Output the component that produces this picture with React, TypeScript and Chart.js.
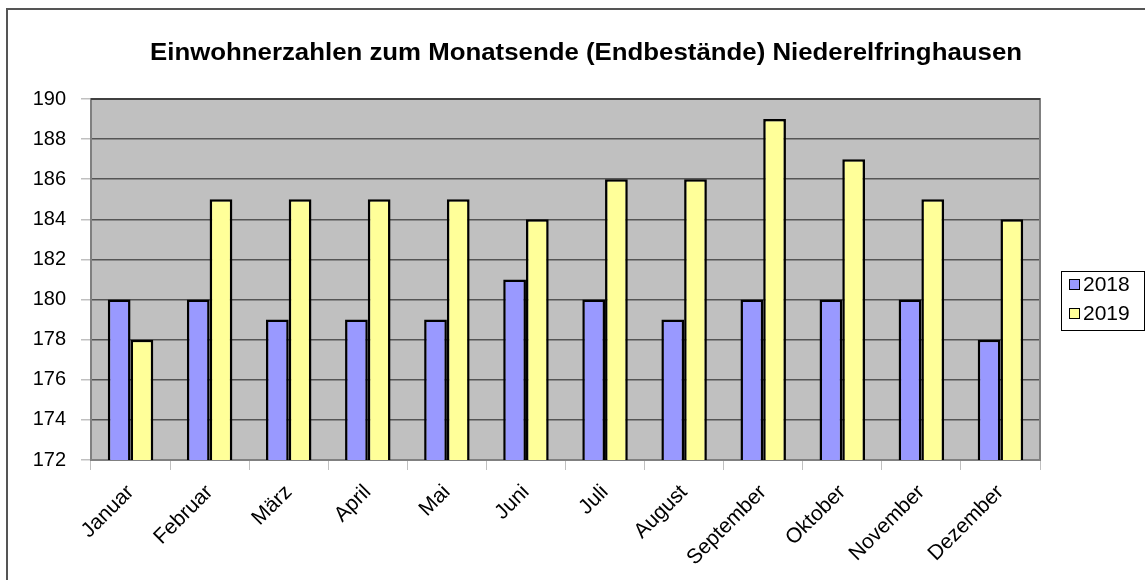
import React, { useEffect, useRef } from "react";
import { Chart, registerables } from "chart.js";

Chart.register(...registerables);

const TITLE = "Einwohnerzahlen zum Monatsende (Endbestände) Niederelfringhausen";
const months = ["Januar", "Februar", "März", "April", "Mai", "Juni", "Juli", "August", "September", "Oktober", "November", "Dezember"];
const series2018 = [180, 180, 179, 179, 179, 181, 180, 179, 180, 180, 180, 178];
const series2019 = [178, 185, 185, 185, 185, 184, 186, 186, 189, 187, 185, 184];
const seriesLabels = ["2018", "2019"];
const seriesColors = ["#9999FF", "#FFFF99"];
const yMin = 172;
const yMax = 190;
const yStep = 2;

const FONT = "'Liberation Sans', Arial, sans-serif";

const decorPlugin = {
  id: "decor",
  beforeDraw(chart: any) {
    const { ctx, chartArea } = chart;
    ctx.save();
    ctx.fillStyle = "#ffffff";
    ctx.fillRect(0, 0, chart.width, chart.height);
    ctx.fillStyle = "#C0C0C0";
    ctx.fillRect(chartArea.left, chartArea.top, chartArea.right - chartArea.left, chartArea.bottom - chartArea.top);
    ctx.restore();
  },
  beforeDatasetsDraw(chart: any) {
    const { ctx, chartArea } = chart;
    ctx.save();
    ctx.strokeStyle = "#808080";
    ctx.lineWidth = 2;
    ctx.strokeRect(chartArea.left, chartArea.top, chartArea.right - chartArea.left, chartArea.bottom - chartArea.top);
    ctx.strokeStyle = "#404040";
    ctx.beginPath();
    ctx.moveTo(chartArea.left, chartArea.top);
    ctx.lineTo(chartArea.right, chartArea.top);
    ctx.stroke();
    ctx.restore();
  },
  afterDraw(chart: any) {
    const { ctx } = chart;
    ctx.save();
    // outer frame
    ctx.strokeStyle = "#555555";
    ctx.lineWidth = 2;
    ctx.beginPath();
    ctx.moveTo(7, 600);
    ctx.lineTo(7, 9);
    ctx.lineTo(1200, 9);
    ctx.stroke();
    // title (slightly stretched horizontally like the original)
    ctx.fillStyle = "#000000";
    ctx.font = "bold 23px " + FONT;
    ctx.textAlign = "center";
    ctx.textBaseline = "middle";
    const w = ctx.measureText(TITLE).width;
    const sx = 872 / w;
    ctx.translate(586, 54);
    ctx.scale(sx, 1);
    ctx.fillText(TITLE, 0, 0);
    ctx.restore();
    // legend
    ctx.save();
    ctx.strokeStyle = "#000000";
    ctx.lineWidth = 1;
    ctx.strokeRect(1061.5, 271.5, 83, 59);
    ctx.font = "21px " + FONT;
    ctx.textAlign = "left";
    ctx.textBaseline = "middle";
    const ys = [284, 313];
    chart.data.datasets.forEach((ds: any, i: number) => {
      const y = ys[i];
      ctx.fillStyle = ds.backgroundColor;
      ctx.fillRect(1069, y - 5, 11, 11);
      ctx.strokeStyle = "#000000";
      ctx.strokeRect(1069.5, y - 4.5, 10, 10);
      ctx.fillStyle = "#000000";
      ctx.fillText(ds.label, 1083, y + 1);
    });
    ctx.restore();
  },
};

export default function App() {
  const ref = useRef<HTMLCanvasElement>(null);
  useEffect(() => {
    if (!ref.current) return;
    const chart = new Chart(ref.current, {
      type: "bar",
      data: {
        labels: months,
        datasets: [
          {
            label: seriesLabels[0],
            data: series2018,
            backgroundColor: seriesColors[0],
            borderColor: "#000000",
            borderWidth: 2.5,
            categoryPercentage: 0.575,
            barPercentage: 1,
          },
          {
            label: seriesLabels[1],
            data: series2019,
            backgroundColor: seriesColors[1],
            borderColor: "#000000",
            borderWidth: 2.5,
            categoryPercentage: 0.575,
            barPercentage: 1,
          },
        ],
      },
      options: {
        responsive: false,
        animation: false,
        devicePixelRatio: 1,
        layout: { padding: { top: 99, right: 105, left: 0, bottom: 0 } },
        plugins: {
          legend: { display: false },
          title: { display: false },
          tooltip: { enabled: false },
        },
        scales: {
          x: {
            grid: {
              drawOnChartArea: false,
              drawTicks: true,
              tickLength: 10,
              tickColor: "#C0C0C0",
              offset: true,
            },
            border: { display: false },
            ticks: {
              color: "#000000",
              font: { family: FONT, size: 21 },
              minRotation: 45,
              maxRotation: 45,
              autoSkip: false,
              padding: 10,
            },
            afterFit(scale: any) {
              scale.height = 120;
            },
          },
          y: {
            min: yMin,
            max: yMax,
            grid: {
              color: "#555555",
              lineWidth: 1.5,
              tickLength: 10,
              tickColor: "#C0C0C0",
            },
            border: { display: false },
            ticks: {
              stepSize: yStep,
              color: "#000000",
              font: { family: FONT, size: 20 },
              padding: 15,
            },
            afterFit(scale: any) {
              scale.width = 91;
            },
          },
        },
      },
      plugins: [decorPlugin],
    } as any);
    return () => chart.destroy();
  }, []);
  return (
    <div style={{ position: "absolute", left: 0, top: 0, width: 1145, height: 580 }}>
      <canvas ref={ref} width={1145} height={580} style={{ width: 1145, height: 580, display: "block" }} />
    </div>
  );
}
